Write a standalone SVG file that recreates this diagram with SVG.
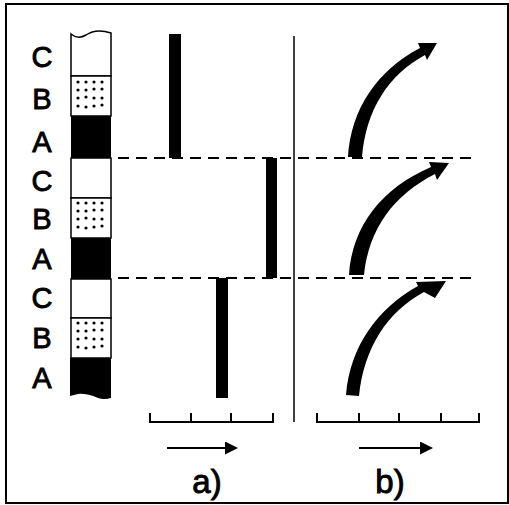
<svg xmlns="http://www.w3.org/2000/svg" width="509" height="505" viewBox="0 0 509 505">
<defs>
<style>
.lbl{font-family:"Liberation Sans",Arial,sans-serif;font-size:29px;fill:#000;stroke:#000;stroke-width:0.9;text-anchor:middle}
.cap{font-family:"Liberation Sans",Arial,sans-serif;font-size:33px;fill:#000;stroke:#000;stroke-width:0.9;text-anchor:middle}
.ln{stroke:#000;fill:none}
.dash{stroke:#000;stroke-width:2;stroke-dasharray:11 7;fill:none}
.bar{fill:#000}
</style>
<g id="dots">
<circle cx="78" cy="82" r="1.6"/><circle cx="86" cy="82" r="1.6"/><circle cx="94" cy="82" r="1.6"/><circle cx="102" cy="82" r="1.6"/>
<circle cx="78" cy="90" r="1.6"/><circle cx="86" cy="90" r="1.6"/><circle cx="94" cy="89" r="1.6"/><circle cx="102" cy="89" r="1.6"/>
<circle cx="78" cy="98" r="1.6"/><circle cx="86" cy="97" r="1.6"/><circle cx="94" cy="98" r="1.6"/><circle cx="102" cy="98" r="1.6"/>
<circle cx="78" cy="106" r="1.6"/><circle cx="86" cy="107" r="1.6"/><circle cx="94" cy="106" r="1.6"/><circle cx="102" cy="105" r="1.6"/>
</g>
<marker id="ah" markerWidth="13" markerHeight="13" refX="11" refY="6.5" orient="auto" markerUnits="userSpaceOnUse">
<path d="M0,0 L13,6.5 L0,13 Z" fill="#000"/>
</marker>
</defs>
<rect width="509" height="505" fill="#fff"/>
<rect x="6" y="4" width="502" height="499" fill="none" stroke="#000" stroke-width="2"/>

<g id="column">
<path d="M71,34 Q78,40 86,35 Q96,28 111,33 L111,76 L71,76 Z" fill="#fff" stroke="#000" stroke-width="1.5"/>
<rect x="71" y="76" width="40" height="40" fill="#fff" stroke="#000" stroke-width="1.5"/>
<use href="#dots"/>
<rect x="71" y="116" width="40" height="42" fill="#000"/>
<rect x="71" y="158" width="40" height="40" fill="#fff" stroke="#000" stroke-width="1.5"/>
<rect x="71" y="198" width="40" height="40" fill="#fff" stroke="#000" stroke-width="1.5"/>
<use href="#dots" y="121"/>
<rect x="71" y="238" width="40" height="41" fill="#000"/>
<rect x="71" y="279" width="40" height="39" fill="#fff" stroke="#000" stroke-width="1.5"/>
<rect x="71" y="318" width="40" height="40" fill="#fff" stroke="#000" stroke-width="1.5"/>
<use href="#dots" y="241"/>
<path d="M70,358 L111,358 L111,398 Q104,400 98,398 Q86,393 78,394 Q74,395 70,396 Z" fill="#000"/>
</g>

<g id="labels">
<text class="lbl" x="42" y="67">C</text>
<text class="lbl" x="42" y="109">B</text>
<text class="lbl" x="42" y="152">A</text>
<text class="lbl" x="42" y="191">C</text>
<text class="lbl" x="42" y="229">B</text>
<text class="lbl" x="42" y="269">A</text>
<text class="lbl" x="42" y="308">C</text>
<text class="lbl" x="42" y="348">B</text>
<text class="lbl" x="42" y="388">A</text>
</g>

<g id="connectors">
<line class="dash" x1="118" y1="158" x2="472" y2="158"/>
<line class="dash" x1="118" y1="278" x2="472" y2="278"/>
<line class="ln" x1="294" y1="36" x2="294" y2="422" stroke-width="1.5"/>
</g>

<g id="bars-a">
<rect class="bar" x="169" y="34" width="12" height="124"/>
<rect class="bar" x="266" y="158" width="11" height="120"/>
<rect class="bar" x="216" y="278" width="12" height="120"/>
</g>

<g id="axis-a">
<path class="ln" stroke-width="2" d="M150,413 L150,422 L273,422 L273,413 M191,422 L191,413 M231,422 L231,413"/>
<line class="ln" stroke-width="2" x1="167" y1="448" x2="236" y2="448" marker-end="url(#ah)"/>
<text class="cap" x="207" y="493">a)</text>
</g>

<g id="axis-b">
<path class="ln" stroke-width="2" d="M317,413 L317,422 L479,422 L479,413 M359,422 L359,413 M399,422 L399,413 M441,422 L441,413"/>
<line class="ln" stroke-width="2" x1="359" y1="448" x2="431" y2="448" marker-end="url(#ah)"/>
<text class="cap" x="390" y="493">b)</text>
</g>

<g id="curves-b">
<path class="bar" d="M348,157 C351,108 378,70 420,48 L418,43 L437,43 L427,60 L425,55 C388,75 366,110 362,157 Z"/>
<path class="bar" d="M349,275 C352,226 382,188 431,167 L429,162 L449,163 L437,180 L435,174 C394,195 369,228 364,275 Z"/>
<path class="bar" d="M346,395 C350,346 378,308 418,286 L416,282 L446,281 L435,298 L424,292 C387,312 364,348 359,396 Z"/>
</g>
</svg>
